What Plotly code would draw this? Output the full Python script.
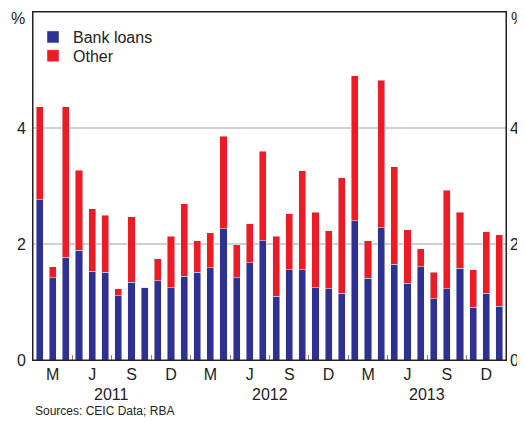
import plotly.graph_objects as go

# Monthly data, Jan 2011 - Dec 2013 (per cent)
months = [f"{m}-{y}" for y in (2011, 2012, 2013)
          for m in ["Jan", "Feb", "Mar", "Apr", "May", "Jun",
                    "Jul", "Aug", "Sep", "Oct", "Nov", "Dec"]]

bank_loans = [2.76, 1.42, 1.77, 1.89, 1.53, 1.51, 1.11, 1.34, 1.25, 1.37, 1.25, 1.44,
              1.51, 1.59, 2.26, 1.42, 1.68, 2.06, 1.10, 1.56, 1.56, 1.25, 1.23, 1.15,
              2.40, 1.41, 2.28, 1.65, 1.32, 1.61, 1.06, 1.23, 1.58, 0.91, 1.15, 0.93]
other = [1.61, 0.19, 2.60, 1.38, 1.08, 0.99, 0.12, 1.13, 0.00, 0.38, 0.88, 1.25,
         0.55, 0.60, 1.60, 0.57, 0.67, 1.54, 1.03, 0.96, 1.70, 1.30, 1.00, 1.99,
         2.50, 0.65, 2.54, 1.68, 0.93, 0.31, 0.45, 1.70, 0.97, 0.65, 1.06, 1.23]

quarter_labels = ["M", "J", "S", "D"] * 3
years = ["2011", "2012", "2013"]

x = list(range(len(months)))                 # month index
quarter_mid = [i for i in x if i % 3 == 1]   # label positions
quarter_bounds = [i + 0.5 for i in x if i % 3 == 2][:-1]

FONT = "Liberation Sans, Arial, sans-serif"

fig = go.Figure()
fig.add_trace(go.Bar(x=x, y=bank_loans, name="Bank loans", marker_color="#2E3192",
                     customdata=months, hovertemplate="%{customdata}: %{y}<extra></extra>",
                     legend="legend"))
fig.add_trace(go.Bar(x=x, y=other, name="Other", marker_color="#ED1C24",
                     customdata=months, hovertemplate="%{customdata}: %{y}<extra></extra>",
                     legend="legend2"))
# invisible trace so the right-hand axis gets drawn
fig.add_trace(go.Scatter(x=[0], y=[0], mode="none", showlegend=False,
                         hoverinfo="skip", yaxis="y2"))

# the page puts the figure 8px in from the top-left corner
fig.update_layout(
    barmode="stack",
    bargap=0.46,
    width=517, height=414,
    margin=dict(l=25, r=19, t=4, b=62, autoexpand=False),
    plot_bgcolor="white", paper_bgcolor="white",
    font=dict(family=FONT, size=16, color="#222"),
    showlegend=True,
    legend=dict(x=0, y=0.928, xanchor="left", yanchor="middle",
                bgcolor="rgba(0,0,0,0)", font=dict(size=16), itemwidth=30),
    legend2=dict(x=0, y=0.874, xanchor="left", yanchor="middle",
                 bgcolor="rgba(0,0,0,0)", font=dict(size=16), itemwidth=30),
    xaxis=dict(range=[-0.5, 35.5], tickvals=quarter_mid, ticktext=quarter_labels,
               ticks="", showline=True, linecolor="#222", linewidth=1, mirror=True,
               showgrid=False, zeroline=False, ticklabelstandoff=0, automargin=False,
               minor=dict(tickvals=quarter_bounds, ticks="inside", ticklen=5,
                          tickcolor="#888", tickwidth=1, showgrid=False)),
    yaxis=dict(range=[0, 6], tickvals=[0, 2, 4], ticks="", showline=True,
               linecolor="#222", linewidth=1, mirror=True, gridcolor="#d0d0d0",
               gridwidth=1.5, zeroline=False, ticklabelstandoff=3, automargin=False),
    yaxis2=dict(overlaying="y", side="right", anchor="x", range=[0, 6],
                tickvals=[0, 2, 4], ticks="", showgrid=False, zeroline=False,
                ticklabelstandoff=3, automargin=False),
    shapes=[dict(type="rect", xref="paper", yref="paper", x0=0, x1=1, y0=0, y1=1,
                 line=dict(color="#222", width=1), layer="above")],
)

annotations = [
    dict(text="%", xref="paper", yref="paper", x=0, y=1, xanchor="right",
         yanchor="middle", xshift=-6, yshift=-6, showarrow=False, font=dict(size=16)),
    dict(text="%", xref="paper", yref="paper", x=1, y=1, xanchor="left",
         yanchor="middle", xshift=3, yshift=-6, showarrow=False, font=dict(size=16)),
    dict(text="Sources: CEIC Data; RBA", xref="paper", yref="paper", x=0, y=0,
         xanchor="left", yanchor="middle", yshift=-51, showarrow=False,
         font=dict(size=12)),
]
for i, yr in enumerate(years):
    annotations.append(dict(text=yr, x=12 * i + 5.5, xref="x", yref="paper", y=0,
                            yanchor="middle", yshift=-34, showarrow=False,
                            font=dict(size=16)))
fig.update_layout(annotations=annotations)

fig.write_html("out.html")
